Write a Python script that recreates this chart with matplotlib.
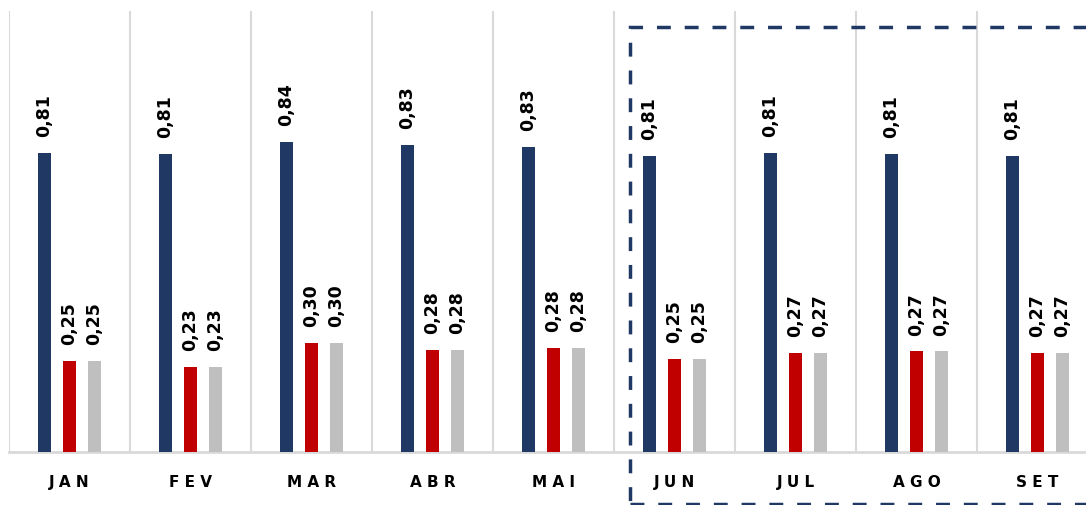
import numpy as np
import matplotlib
matplotlib.use("Agg")
import matplotlib.pyplot as plt
from matplotlib.patches import Rectangle

meses = ['JAN', 'FEV', 'MAR', 'ABR', 'MAI', 'JUN', 'JUL', 'AGO', 'SET']
serie_azul = [0.814, 0.811, 0.844, 0.835, 0.830, 0.805, 0.814, 0.811, 0.805]
serie_vermelha = [0.248, 0.231, 0.297, 0.278, 0.283, 0.253, 0.269, 0.274, 0.269]
serie_cinza = [0.248, 0.231, 0.297, 0.278, 0.283, 0.253, 0.269, 0.274, 0.269]

cor_azul = '#203864'
cor_vermelha = '#c00000'
cor_cinza = '#bfbfbf'
cor_grade = '#d9d9d9'

fig = plt.figure(figsize=(10.86, 5.06), dpi=100)
ax = fig.add_axes([9/1086, 53/506, 1077/1086, 441/506])

x = np.arange(len(meses))
largura = 0.107
desloc = 25/121

for serie, cor, d in [(serie_azul, cor_azul, -desloc),
                      (serie_vermelha, cor_vermelha, 0),
                      (serie_cinza, cor_cinza, desloc)]:
    barras = ax.bar(x + d, serie, width=largura, color=cor, zorder=3)
    for rect, v in zip(barras, serie):
        ax.annotate(f'{v:.2f}'.replace('.', ','),
                    (rect.get_x() + rect.get_width()/2, rect.get_height()),
                    xytext=(0, 12), textcoords='offset points',
                    rotation=90, ha='center', va='bottom',
                    fontsize=12.5, fontweight='bold', color='black')

# linhas separadoras entre meses
for k in range(len(meses)):
    ax.axvline(k - 0.5, color=cor_grade, linewidth=1.5, zorder=1)

ax.set_xlim(-0.5, -0.5 + 1077/121)
ax.set_ylim(0, 1.2)
for s in ['top', 'right', 'left']:
    ax.spines[s].set_visible(False)
ax.spines['bottom'].set_color(cor_grade)
ax.spines['bottom'].set_linewidth(2)
ax.set_yticks([])
ax.set_xticks(x)
ax.set_xticklabels([' '.join(m) for m in meses], fontsize=11, fontweight='bold')
ax.tick_params(axis='x', length=0, pad=16)

# destaque tracejado a partir de junho
esq = (630 - 9)/121 - 0.5
topo = (453 - 28)/367.5
base = -(505 - 453)/367.5
ret = Rectangle((esq, base), 10, topo - base, fill=False, edgecolor=cor_azul,
                linewidth=2.5, linestyle=(0, (4, 4)), clip_on=False, zorder=4)
ax.add_patch(ret)

fig.savefig('out.png', dpi=100)
